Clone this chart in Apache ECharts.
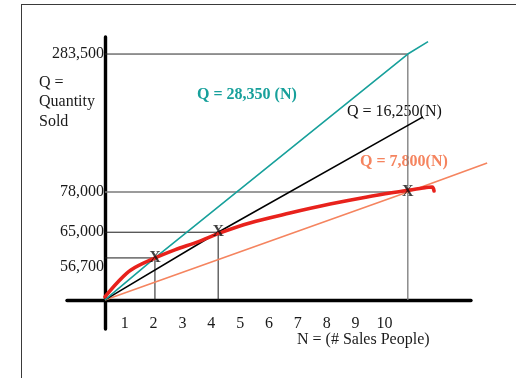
<!DOCTYPE html>
<html>
<head>
<meta charset="utf-8">
<script src="https://cdn.jsdelivr.net/npm/echarts@6/dist/echarts.min.js"></script>
<style>
  html, body { margin: 0; padding: 0; background: #fff; }
  #wrap { position: relative; width: 516px; height: 378px; overflow: hidden; }
  #frame { position: absolute; left: 21px; top: 4px; right: -2px; bottom: -2px;
           border-left: 1px solid #3a3a3a; border-top: 1px solid #3a3a3a; }
  #chart { position: absolute; left: 0; top: 0; width: 516px; height: 378px; }
</style>
</head>
<body>
<div id="wrap">
  <div id="frame"></div>
  <div id="chart"></div>
</div>
<script>
// Sales force size (N) and the quantity sold (Q) at the marked points
const markN = [2, 4, 10];
const markQ = [56700, 65000, 78000];
const peakN = 10;
const peakQ = 283500;            // 28,350 x 10

// Ray lines from the origin, Q = k * N
const tealN = [0, 2, 10, 10.64];
const tealQ = [0, 56700, 283500, 287500];
const blackN = [0, 4, 10.48];
const blackQ = [0, 65000, 194000];
const orangeN = [0, 10, 12.51];
const orangeQ = [0, 78000, 117700];

// Total product curve
const curveN = [0, 0.5, 1.05, 1.94, 2.63, 3.36, 4.06, 5.0, 6.27, 7.54, 8.71, 9.85, 10.48, 10.77, 10.83];
const curveQ = [1000, 24500, 44000, 56400, 59300, 61900, 64800, 68000, 71200, 74100, 76400, 78300, 79300, 79600, 78300];

// Axis tick labels
const yTickValues = [56700, 65000, 78000, 283500];
const xTickLabels = ['1', '2', '3', '4', '5', '6', '7', '8', '9', '10'];

const zip = (xs, ys) => xs.map((x, i) => [x, ys[i]]);
const fmt = v => v.toLocaleString('en-US');

const SERIF = "'Liberation Serif', 'Times New Roman', serif";
const TEAL = '#17a09b';
const ORANGE = '#f5845f';
const RED = '#e8221c';

const chart = echarts.init(document.getElementById('chart'), null, { renderer: 'canvas' });

function thin(name, data, color, width) {
  return {
    name, type: 'line', data, symbol: 'none', silent: true, clip: false,
    lineStyle: { color, width: width || 1 }, z: 1
  };
}

const hidden = { show: false };
const thick = { color: '#000', width: 3.4 };

const option = {
  animation: false,
  backgroundColor: 'transparent',
  grid: [
    // plotting area (schematic, broken scales)
    { left: 67, right: 26, top: 37, bottom: 49 },
    // crossing axis lines
    { left: 67, right: 45, top: 37, bottom: 49 },
    // N tick labels
    { left: 67, right: 45, top: 37, bottom: 49 }
  ],
  xAxis: [
    {
      gridIndex: 0, type: 'value', min: -1.2, max: 12.6,
      breaks: [
        { start: 0.1, end: 0.45, gap: 0.2614 },
        { start: 0.55, end: 1.0, gap: 0.3114 },
        { start: 1.1, end: 1.9, gap: 0.6095 }
      ],
      breakArea: { show: false },
      axisLine: hidden, axisTick: hidden, axisLabel: hidden, splitLine: hidden
    },
    {
      gridIndex: 1, type: 'value', min: -38, max: 366,
      axisLine: { show: true, onZero: true, lineStyle: thick },
      axisTick: hidden, axisLabel: hidden, splitLine: hidden
    },
    {
      gridIndex: 2, type: 'value', min: -1, max: 13, interval: 1, position: 'bottom',
      axisLine: { show: false, onZero: false },
      axisTick: hidden, splitLine: hidden,
      axisLabel: {
        margin: -13, fontFamily: SERIF, fontSize: 16, color: '#1a1a1a',
        formatter: v => (v >= 1 && v <= xTickLabels.length) ? xTickLabels[v - 1] : ''
      }
    }
  ],
  yAxis: [
    {
      gridIndex: 0, type: 'value', min: -9400, max: 289000,
      breaks: [
        { start: 1000, end: 24000, gap: 4306 },
        { start: 25000, end: 43500, gap: 2871 },
        { start: 44500, end: 55000, gap: 1671 },
        { start: 80000, end: 280000, gap: 39032 }
      ],
      breakArea: { show: false },
      axisLine: { show: false, onZero: false },
      axisTick: hidden, splitLine: hidden,
      axisLabel: {
        customValues: yTickValues, margin: -37, fontFamily: SERIF, fontSize: 16, color: '#1a1a1a',
        formatter: v => v === yTickValues[0] ? '{low|' + fmt(v) + '}' : fmt(v),
        rich: { low: { fontFamily: SERIF, fontSize: 16, color: '#1a1a1a', padding: [18, 0, 0, 0] } }
      }
    },
    {
      gridIndex: 1, type: 'value', min: -29, max: 263,
      axisLine: { show: true, onZero: true, lineStyle: thick },
      axisTick: hidden, axisLabel: hidden, splitLine: hidden
    },
    {
      gridIndex: 2, type: 'value', min: 0, max: 1,
      axisLine: hidden, axisTick: hidden, axisLabel: hidden, splitLine: hidden
    }
  ],
  series: [
    thin('peakLevel', [[0, peakQ], [peakN, peakQ]], '#2a2a2a', 1),
    thin('peakDrop', [[peakN, peakQ], [peakN, 0]], '#7a7a7a', 1.3),
    thin('level3', [[0, markQ[2]], [markN[2], markQ[2]]], '#7a7a7a', 1.5),
    thin('level2', [[0, markQ[1]], [markN[1], markQ[1]], [markN[1], 0]], '#1a1a1a', 1),
    thin('level1', [[0, markQ[0]], [markN[0], markQ[0]], [markN[0], 0]], '#1a1a1a', 1),
    {
      name: 'Q = 7,800(N)', type: 'line', data: zip(orangeN, orangeQ), symbol: 'none', clip: false,
      lineStyle: { color: ORANGE, width: 1.6 }, z: 2
    },
    {
      name: 'Q = 16,250(N)', type: 'line', data: zip(blackN, blackQ), symbol: 'none', clip: false,
      lineStyle: { color: '#000', width: 1.6 }, z: 2
    },
    {
      name: 'Q = 28,350 (N)', type: 'line', data: zip(tealN, tealQ), symbol: 'none', clip: false,
      lineStyle: { color: TEAL, width: 1.6 }, z: 2
    },
    {
      name: 'curve', type: 'line', data: zip(curveN, curveQ), symbol: 'none', clip: false,
      smooth: 0.35, lineStyle: { color: RED, width: 3.6, cap: 'round' }, z: 3
    },
    {
      name: 'marks', type: 'scatter', data: zip(markN, markQ), symbolSize: 1,
      itemStyle: { color: 'transparent' }, z: 4,
      label: {
        show: true, position: 'inside', formatter: 'X',
        fontFamily: SERIF, fontSize: 16, fontWeight: 'bold', color: '#111'
      }
    }
  ],
  graphic: [
    {
      type: 'text', left: 39, top: 73,
      style: { text: 'Q =\nQuantity\nSold', font: '16px ' + SERIF, lineHeight: 19.5, fill: '#1a1a1a' }
    },
    {
      type: 'text', left: 197, top: 87,
      style: { text: 'Q = 28,350 (N)', font: 'bold 16px ' + SERIF, fill: TEAL }
    },
    {
      type: 'text', left: 347, top: 104,
      style: { text: 'Q = 16,250(N)', font: '16px ' + SERIF, fill: '#111' }
    },
    {
      type: 'text', left: 360, top: 154,
      style: { text: 'Q = 7,800(N)', font: 'bold 16px ' + SERIF, fill: ORANGE }
    },
    {
      type: 'text', left: 297, top: 332,
      style: { text: 'N = (# Sales People)', font: '16px ' + SERIF, fill: '#1a1a1a' }
    }
  ]
};

chart.setOption(option);
</script>
</body>
</html>
